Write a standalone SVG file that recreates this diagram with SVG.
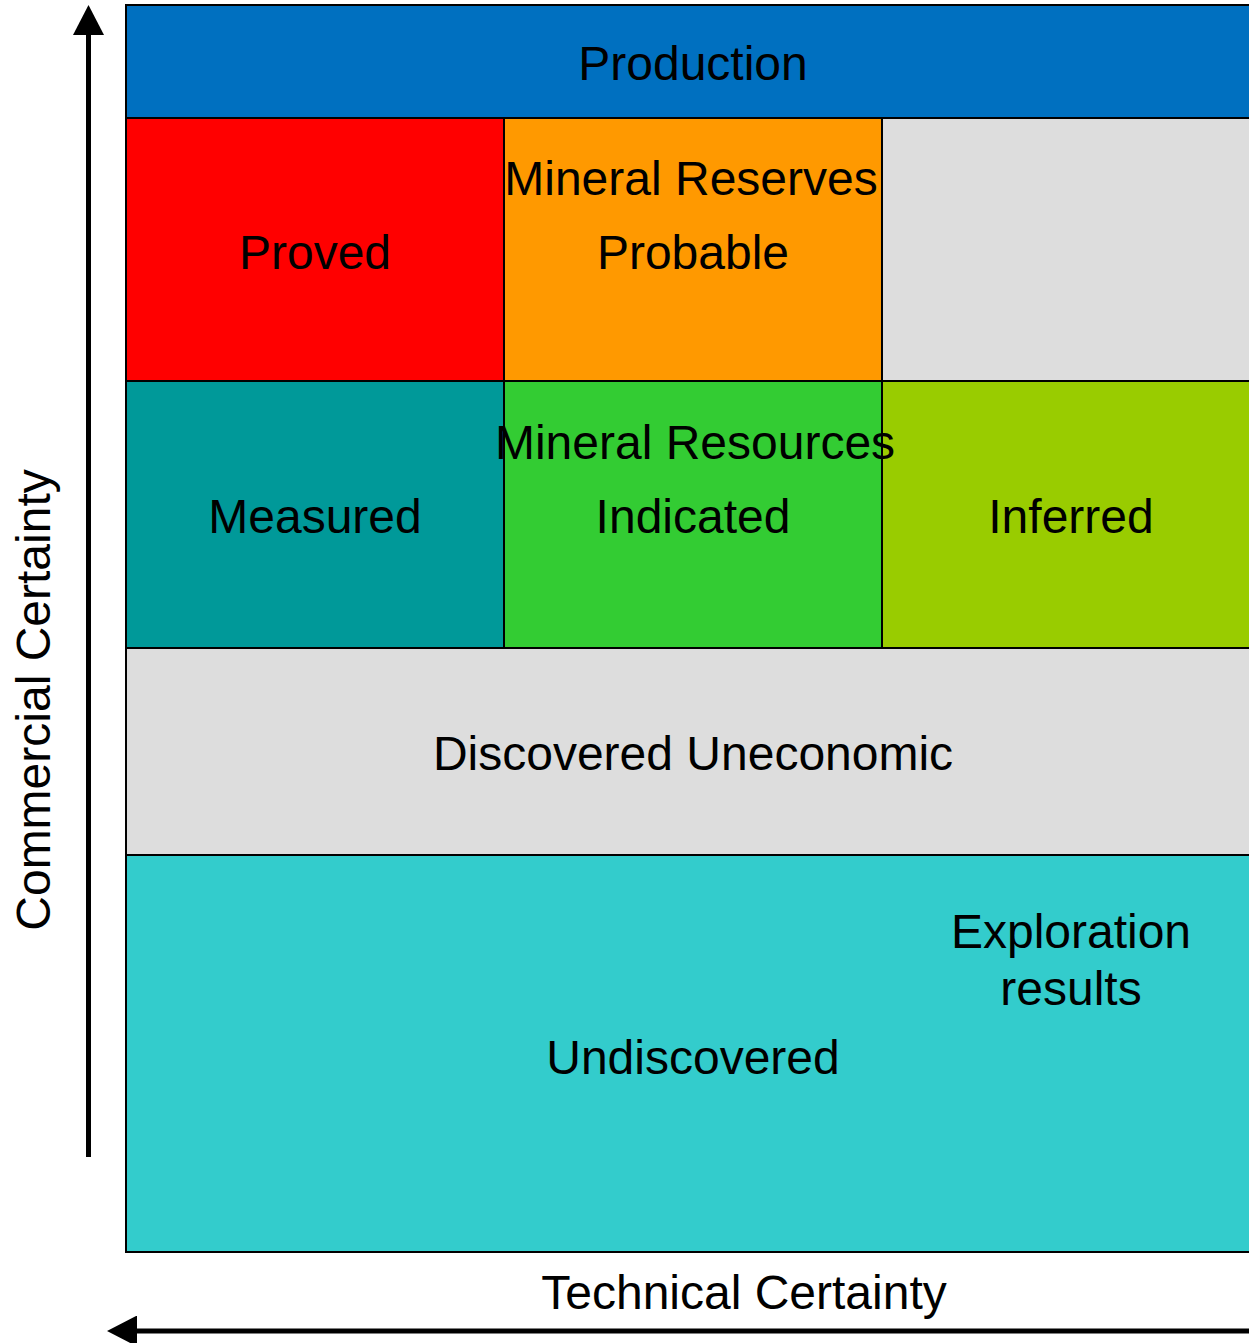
<svg xmlns="http://www.w3.org/2000/svg" width="1249" height="1343" viewBox="0 0 1249 1343">
<style>
.cell{stroke:#000;stroke-width:2}
.t{font-family:"Liberation Sans",Arial,sans-serif;font-size:48px;fill:#000;text-anchor:middle}
.ax{stroke:#000;stroke-width:5;fill:none}
</style>
<defs>
<marker id="ah" markerUnits="userSpaceOnUse" markerWidth="30" markerHeight="31" viewBox="0 0 30 31" refX="0" refY="15.5" orient="auto">
<path d="M0,0 L30,15.5 L0,31 z" fill="#000"/>
</marker>
</defs>
<rect x="0" y="0" width="1249" height="1343" fill="#fff"/>
<g id="production"><rect class="cell" x="126" y="5" width="1140" height="113" fill="#0070C0"/><text class="t" x="693" y="80">Production</text></g>
<g id="proved"><rect class="cell" x="126" y="118" width="378" height="263" fill="#FF0000"/><text class="t" x="315" y="269">Proved</text></g>
<g id="probable"><rect class="cell" x="504" y="118" width="378" height="263" fill="#FF9900"/><text class="t" x="691" y="195">Mineral Reserves</text><text class="t" x="693" y="269">Probable</text></g>
<g id="blank"><rect class="cell" x="882" y="118" width="384" height="263" fill="#DDDDDD"/></g>
<g id="measured"><rect class="cell" x="126" y="381" width="378" height="267" fill="#009999"/><text class="t" x="315" y="533">Measured</text></g>
<g id="inferred"><rect class="cell" x="882" y="381" width="384" height="267" fill="#99CC00"/><text class="t" x="1071" y="533">Inferred</text></g>
<g id="indicated"><rect class="cell" x="504" y="381" width="378" height="267" fill="#33CC33"/><text class="t" x="695" y="459">Mineral Resources</text><text class="t" x="693" y="533">Indicated</text></g>
<g id="uneconomic"><rect class="cell" x="126" y="648" width="1140" height="207" fill="#DDDDDD"/><text class="t" x="693" y="770">Discovered Uneconomic</text></g>
<g id="undiscovered"><rect class="cell" x="126" y="855" width="1140" height="397" fill="#33CCCC"/><text class="t" x="693" y="1074">Undiscovered</text><text class="t" x="1071" y="948">Exploration</text><text class="t" x="1071" y="1005">results</text></g>
<g id="connectors">
<line class="ax" x1="88.5" y1="1157" x2="88.5" y2="35" marker-end="url(#ah)"/>
<line class="ax" x1="1260" y1="1331" x2="137" y2="1331" marker-end="url(#ah)"/>
</g>
<g id="axis-labels">
<text class="t" x="744" y="1309">Technical Certainty</text>
<text class="t" transform="translate(50,700) rotate(-90)" x="0" y="0">Commercial Certainty</text>
</g>
</svg>
